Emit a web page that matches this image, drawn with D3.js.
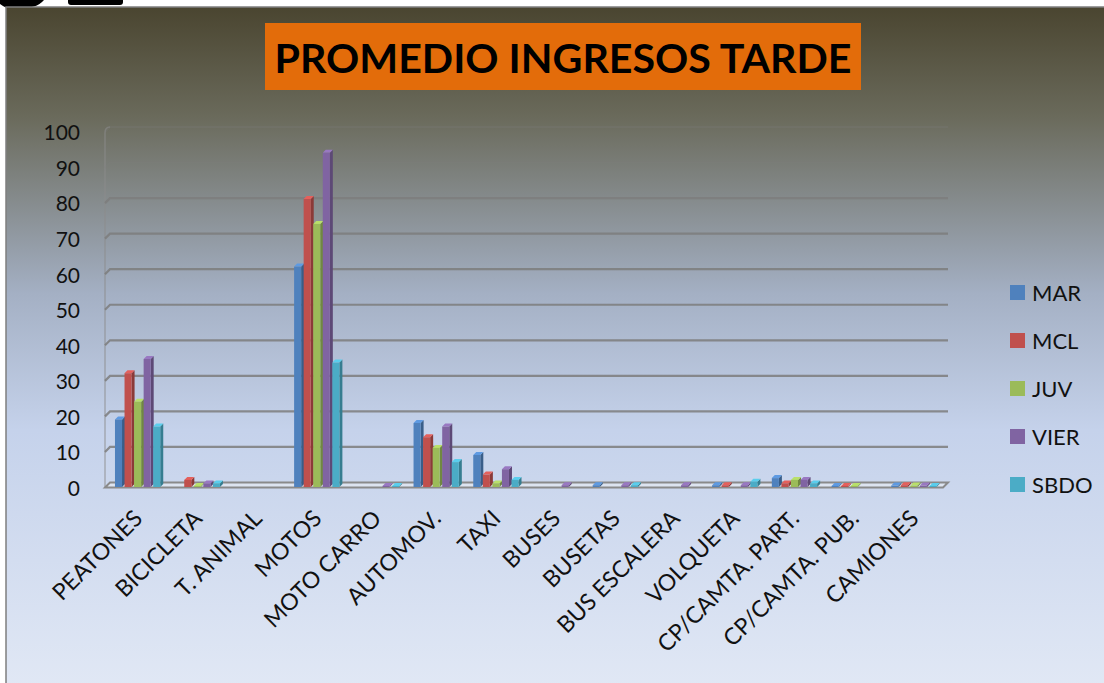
<!DOCTYPE html>
<html>
<head>
<meta charset="utf-8">
<script src="https://cdn.jsdelivr.net/npm/d3@7"></script>
<style>
  html, body { margin: 0; padding: 0; background: #fff; }
  svg { display: block; }
</style>
</head>
<body>
<div id="mainArea"></div>
<script>
// categories on the x axis
var categories = ["PEATONES", "BICICLETA", "T. ANIMAL", "MOTOS", "MOTO CARRO", "AUTOMOV.", "TAXI",
  "BUSES", "BUSETAS", "BUS ESCALERA", "VOLQUETA", "CP/CAMTA. PART.", "CP/CAMTA. PUB.", "CAMIONES"];
var seriesNames = ["MAR", "MCL", "JUV", "VIER", "SBDO"];
var seriesColors = ["#4f81bd", "#c0504d", "#9bbb59", "#8064a2", "#4bacc6"];

// one array per series, same order as categories
var MAR  = [19, 0,   0, 62, 0,   18, 9,   0,   0.5, 0,   0.5, 2.5, 0.3, 0.4];
var MCL  = [32, 2,   0, 81, 0,   14, 3.5, 0,   0,   0,   0.5, 1,   0.3, 0.5];
var JUV  = [24, 0.3, 0, 74, 0,   11, 1,   0,   0,   0,   0,   2,   0.3, 0.4];
var VIER = [36, 1,   0, 94, 0.3, 17, 5,   0.5, 0.5, 0.5, 0.5, 2,   0,   0.4];
var SBDO = [17, 1,   0, 35, 0.3, 7,  2,   0,   0.5, 0,   1.5, 1,   0,   0.3];
var seriesValues = [MAR, MCL, JUV, VIER, SBDO];

var yTicks = [0, 10, 20, 30, 40, 50, 60, 70, 80, 90, 100];
var chartTitle = "PROMEDIO INGRESOS TARDE";

function mainInit() {
  var width = 1104, height = 683;
  var depth = 5; // 3d offset of the back wall

  var vis = d3.select("#mainArea").append("svg")
      .attr("width", width)
      .attr("height", height);

  var defs = vis.append("defs");
  var bg = defs.append("linearGradient").attr("id", "bg")
      .attr("x1", 0).attr("y1", 0).attr("x2", 0).attr("y2", 1);
  [[0, "#4a4530"], [0.16, "#6a6a5b"], [0.42, "#a4b0c4"], [0.62, "#c5d2eb"], [1, "#e1e8f5"]]
    .forEach(function(s) { bg.append("stop").attr("offset", s[0]).attr("stop-color", s[1]); });

  // top strip (page header cut off)
  vis.append("rect").attr("width", width).attr("height", 8).attr("fill", "#fff");
  vis.append("path").attr("d", "M0,0 L44,0 A22,22 0 0 1 22,7 A22,22 0 0 1 0,4 Z").attr("fill", "#000");
  vis.append("rect").attr("x", 68).attr("y", -4).attr("width", 55).attr("height", 9).attr("rx", 3).attr("fill", "#000");

  // chart area
  vis.append("rect").attr("x", 6).attr("y", 7).attr("width", width).attr("height", height)
      .attr("fill", "url(#bg)").attr("stroke", "#7f7f7f").attr("stroke-width", 1.5);

  // scales
  var x0 = d3.scaleBand().domain(categories).range([109, 945]).paddingInner(0.2).paddingOuter(0.1);
  var x1 = d3.scaleBand().domain(seriesNames).range([0, x0.bandwidth()]);
  var yGrid = d3.scaleLinear().domain([0, 100]).range([482.5, 127]);
  var yBar = d3.scaleLinear().domain([0, 100]).range([487, 131.5]);

  var plotLeft = 105, plotRight = 943;

  // left wall edge
  vis.append("path")
      .attr("d", "M" + plotLeft + "," + (yGrid(0) + depth) + " L" + plotLeft + "," + (yGrid(100) + 6) +
                 " Q" + plotLeft + "," + yGrid(100) + " " + (plotLeft + depth) + "," + yGrid(100))
      .attr("fill", "none").attr("stroke", "#8c8c8c").attr("stroke-opacity", 0.6).attr("stroke-width", 1.5);

  // gridlines on the back wall
  vis.selectAll("path.grid").data(yTicks.slice(1)).enter().append("path")
      .attr("class", "grid")
      .attr("d", function(d) {
        var y = yGrid(d);
        return "M" + plotLeft + "," + (y + depth) + " L" + (plotLeft + depth) + "," + y + " L" + (plotRight + depth) + "," + y;
      })
      .attr("fill", "none")
      .attr("stroke", "#7d7d7d")
      .attr("stroke-width", 2.2)
      .attr("stroke-opacity", function(d) { return d === 100 ? 0.25 : d === 90 ? 0.15 : 0.85; });

  // floor
  var f0 = yGrid(0);
  vis.append("path")
      .attr("d", "M" + plotLeft + "," + (f0 + depth) + " L" + plotRight + "," + (f0 + depth) +
                 " L" + (plotRight + depth) + "," + f0 + " L" + (plotLeft + depth) + "," + f0 + " Z")
      .attr("fill", "#dde4f0").attr("stroke", "#8a8a8a").attr("stroke-width", 2);

  // y labels
  vis.selectAll("text.ylab").data(yTicks).enter().append("text")
      .attr("class", "ylab")
      .attr("x", 80)
      .attr("y", function(d) { return yGrid(d) + 6; })
      .attr("dy", "0.35em")
      .attr("text-anchor", "end")
      .style("font-family", "Lato, 'Open Sans', sans-serif")
      .style("font-size", "21px")
      .attr("fill", "#111")
      .text(function(d) { return d; });

  // bars (front face, side face, top face)
  var bars = [];
  categories.forEach(function(c, i) {
    seriesNames.forEach(function(s, j) {
      if (seriesValues[j][i] > 0) bars.push({ cat: c, ser: s, j: j, v: seriesValues[j][i] });
    });
  });
  var bw = x1.bandwidth() - 2.5, dd = 3;
  var g = vis.selectAll("g.bar").data(bars).enter().append("g").attr("class", "bar");
  g.append("path")
      .attr("d", function(d) {
        var x = x0(d.cat) + x1(d.ser) + bw, yt = yBar(d.v), yb = yBar(0);
        return "M" + x + "," + yb + " L" + x + "," + yt + " L" + (x + dd) + "," + (yt - dd) + " L" + (x + dd) + "," + (yb - dd) + " Z";
      })
      .attr("fill", function(d) { return d3.color(seriesColors[d.j]).darker(0.9); });
  g.append("path")
      .attr("d", function(d) {
        var x = x0(d.cat) + x1(d.ser), yt = yBar(d.v);
        return "M" + x + "," + yt + " L" + (x + dd) + "," + (yt - dd) + " L" + (x + bw + dd) + "," + (yt - dd) + " L" + (x + bw) + "," + yt + " Z";
      })
      .attr("fill", function(d) { return d3.color(seriesColors[d.j]).brighter(0.5); });
  g.append("rect")
      .attr("x", function(d) { return x0(d.cat) + x1(d.ser); })
      .attr("y", function(d) { return yBar(d.v); })
      .attr("width", bw)
      .attr("height", function(d) { return Math.max(0.8, yBar(0) - yBar(d.v)); })
      .attr("fill", function(d) { return seriesColors[d.j]; });

  // x labels
  vis.selectAll("text.xlab").data(categories).enter().append("text")
      .attr("class", "xlab")
      .attr("transform", function(d) {
        return "translate(" + (x0(d) + x0.bandwidth() / 2 + 5) + ",520) rotate(-45)";
      })
      .attr("text-anchor", "end")
      .style("font-family", "Lato, 'Open Sans', sans-serif")
      .style("font-size", "23px")
      .attr("fill", "#111")
      .text(function(d) { return d; });

  // legend
  var leg = vis.selectAll("g.leg").data(seriesNames).enter().append("g")
      .attr("class", "leg")
      .attr("transform", function(d, i) { return "translate(1010," + (285 + i * 48) + ")"; });
  leg.append("rect").attr("width", 15).attr("height", 15)
      .attr("fill", function(d, i) { return seriesColors[i]; });
  leg.append("text").attr("x", 22).attr("y", 8).attr("dy", "0.35em")
      .style("font-family", "Lato, 'Open Sans', sans-serif")
      .style("font-size", "22px")
      .attr("fill", "#111")
      .text(function(d) { return d; });

  // title
  vis.append("rect").attr("x", 265).attr("y", 23).attr("width", 596).attr("height", 67).attr("fill", "#e36c0a");
  vis.append("text")
      .attr("x", 563).attr("y", 73)
      .attr("text-anchor", "middle")
      .attr("textLength", 577)
      .attr("lengthAdjust", "spacingAndGlyphs")
      .style("font-family", "Lato, 'Open Sans', sans-serif")
      .style("font-weight", "bold")
      .style("font-size", "41px")
      .attr("fill", "#000")
      .text(chartTitle);
}

window.onload = mainInit;
</script>
</body>
</html>
